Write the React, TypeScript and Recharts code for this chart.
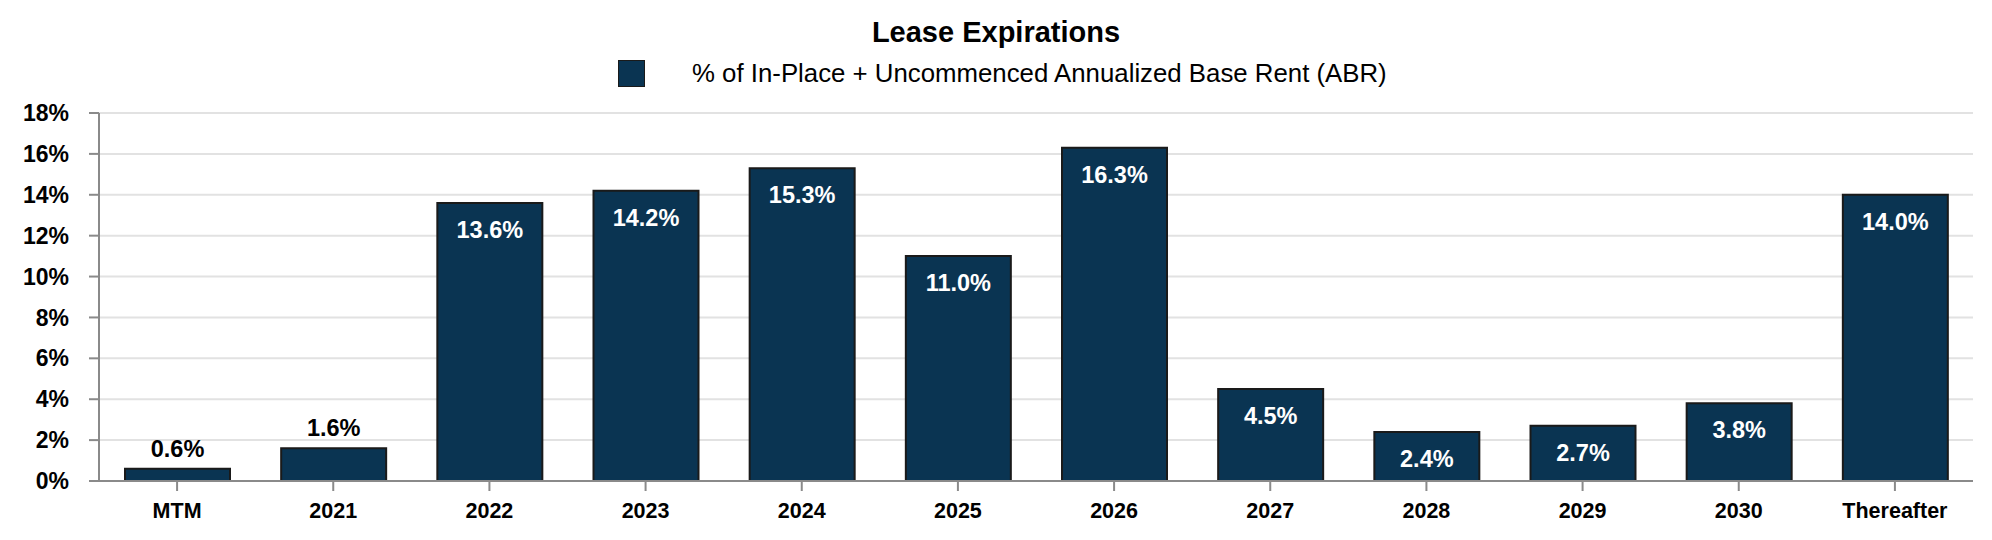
import { BarChart, Bar, XAxis, YAxis, CartesianGrid, LabelList } from 'recharts';

const CATEGORIES = ['MTM', '2021', '2022', '2023', '2024', '2025', '2026', '2027', '2028', '2029', '2030', 'Thereafter'];
const ABR_PCT = [0.6, 1.6, 13.6, 14.2, 15.3, 11.0, 16.3, 4.5, 2.4, 2.7, 3.8, 14.0];
const Y_TICKS = [0, 2, 4, 6, 8, 10, 12, 14, 16, 18];

const SERIES_NAME = '% of In-Place + Uncommenced Annualized Base Rent (ABR)';
const FONT = '"Liberation Sans", Arial, Helvetica, sans-serif';
const NAVY = '#0a3452';
const AXIS = '#8a8a8a';

const data = CATEGORIES.map((name, i) => ({ name, abr: ABR_PCT[i] }));

// small bars get the label above, the rest get it inside near the top
function BarValueLabel(props: any) {
  const { x, y, width, value } = props;
  const v = Number(value);
  const inside = v >= 2;
  return (
    <text
      x={x + width / 2}
      y={inside ? y + 27 : y - 20}
      textAnchor="middle"
      dominantBaseline="central"
      fontFamily={FONT}
      fontWeight={700}
      fontSize={23.5}
      fill={inside ? '#ffffff' : '#000000'}
    >
      {v.toFixed(1)}%
    </text>
  );
}

export default function App() {
  return (
    <div style={{ position: 'relative', width: 1992, height: 540, fontFamily: FONT, background: '#fff' }}>
      <style>{'body{margin:0}'}</style>

      {/* title + legend */}
      <div style={{
        position: 'absolute', top: 16, left: 0, width: 1992, textAlign: 'center',
        fontSize: 29, fontWeight: 700, color: '#000', lineHeight: '33px',
      }}>
        Lease Expirations
      </div>
      <div style={{ position: 'absolute', top: 59, left: 618, display: 'flex', alignItems: 'center', height: 29 }}>
        <span style={{
          display: 'inline-block', width: 25, height: 25, background: NAVY,
          border: '1.5px solid #1a1a1a',
        }} />
        <span style={{ marginLeft: 47, fontSize: 25.8, color: '#000', whiteSpace: 'nowrap' }}>{SERIES_NAME}</span>
      </div>

      <BarChart
        width={1992}
        height={540}
        data={data}
        margin={{ top: 113, right: 19, left: 0, bottom: 19 }}
        barSize={105}
      >
        <CartesianGrid horizontal vertical={false} stroke="#e2e2e2" strokeWidth={2} />
        <XAxis
          dataKey="name"
          stroke={AXIS}
          strokeWidth={2}
          tickSize={10}
          tickMargin={12}
          height={40}
          interval={0}
          tick={{ fontSize: 21.5, fontWeight: 700, fill: '#000', fontFamily: FONT }}
        />
        <YAxis
          domain={[0, 18]}
          ticks={Y_TICKS}
          width={99}
          stroke={AXIS}
          strokeWidth={2}
          tickSize={10}
          tickMargin={20}
          tickFormatter={(v) => `${v}%`}
          tick={{ fontSize: 23, fontWeight: 700, fill: '#000', fontFamily: FONT }}
        />
        <Bar dataKey="abr" fill={NAVY} stroke="#1a1a1a" strokeWidth={2} isAnimationActive={false}>
          <LabelList dataKey="abr" content={<BarValueLabel />} />
        </Bar>
      </BarChart>
    </div>
  );
}
